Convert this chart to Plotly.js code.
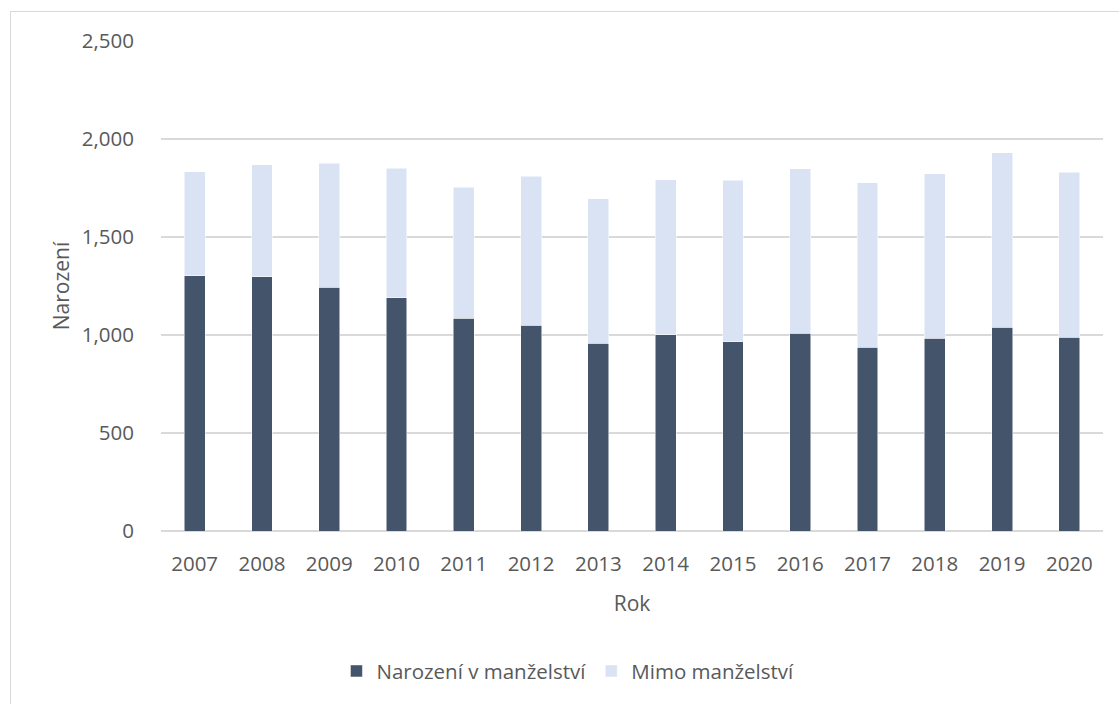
<!DOCTYPE html>
<html>
<head>
<meta charset="utf-8">
<script src="https://cdn.plot.ly/plotly-3.0.1.min.js"></script>
<style>
  html, body { margin: 0; padding: 0; background: #fff; }
  #wrap { position: relative; width: 1119px; height: 704px; }
  #chart { width: 1119px; height: 704px; }
  #frame { position: absolute; left: 10px; top: 11px; width: 1200px; height: 800px;
           border: 1.5px solid #d9d9d9; pointer-events: none; box-sizing: border-box; }
</style>
</head>
<body>
<div id="wrap">
  <div id="chart"></div>
  <div id="frame"></div>
</div>
<script>
const years = ["2007","2008","2009","2010","2011","2012","2013","2014","2015","2016","2017","2018","2019","2020"];
const vManzelstvi = [1303,1296,1244,1191,1086,1050,959,1001,965,1010,938,984,1040,988];
const mimoManzelstvi = [529,573,632,659,668,760,737,790,824,839,840,839,889,842];
const yTicks = [0,500,1000,1500,2000,2500];
const yTickLabels = ["0","500","1,000","1,500","2,000","2,500"];

const fontFam = "'Open Sans', 'Noto Sans', sans-serif";
const gray = "#595959";

const traces = [
  { type: "bar", name: "Narození v manželství", x: years, y: vManzelstvi,
    marker: { color: "#44546a", line: { color: "#ffffff", width: 0.5 } } },
  { type: "bar", name: "Mimo manželství", x: years, y: mimoManzelstvi,
    marker: { color: "#dae3f3", line: { color: "#ffffff", width: 0.5 } } }
];

const layout = {
  width: 1119, height: 704,
  barmode: "stack",
  bargap: 0.69,
  paper_bgcolor: "#ffffff",
  plot_bgcolor: "#ffffff",
  margin: { l: 161, r: 16, t: 41, b: 172.5 },
  font: { family: fontFam, color: gray, size: 20.5 },
  showlegend: true,
  legend: {
    orientation: "h", x: 0.432, xanchor: "center", y: -0.286, yanchor: "middle",
    font: { family: fontFam, size: 20.5, color: gray },
    traceorder: "normal", itemwidth: 30
  },
  xaxis: {
    type: "category",
    tickfont: { family: fontFam, size: 20.5, color: gray },
    ticks: "outside", ticklen: 14, tickcolor: "rgba(0,0,0,0)",
    showgrid: false, showline: false, zeroline: false,
    title: { text: "Rok", font: { family: fontFam, size: 21, color: gray }, standoff: 20 }
  },
  yaxis: {
    range: [0, 2500],
    tickvals: yTicks, ticktext: yTickLabels,
    tickfont: { family: fontFam, size: 20.5, color: gray },
    ticks: "outside", ticklen: 22, tickcolor: "rgba(0,0,0,0)",
    showgrid: true, gridcolor: "#d9d9d9", gridwidth: 1.5,
    zeroline: true, zerolinecolor: "#d9d9d9", zerolinewidth: 1.5,
    showline: false,
    title: { text: "Narození", font: { family: fontFam, size: 21, color: gray }, standoff: 6 }
  }
};

Plotly.newPlot("chart", traces, layout, { displayModeBar: false, staticPlot: true });
</script>
</body>
</html>
